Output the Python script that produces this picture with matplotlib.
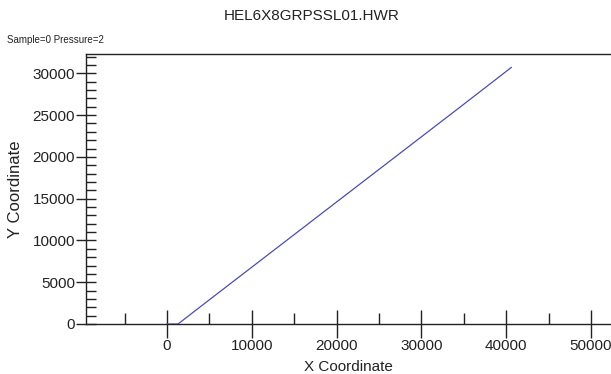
import matplotlib
matplotlib.use("Agg")
import matplotlib.pyplot as plt
from matplotlib.ticker import MultipleLocator

plt.rcParams['font.family'] = ['Liberation Sans', 'DejaVu Sans']

# Trace of the coordinate path
x_coord = [0, 1300, 5000, 10000, 15000, 20000, 25000, 30000, 35000, 40600]
y_coord = [0, 0, 2900, 6800, 10700, 14600, 18500, 22400, 26300, 30700]

title = "HEL6X8GRPSSL01.HWR"
subtitle = "Sample=0 Pressure=2"
x_label = "X Coordinate"
y_label = "Y Coordinate"
x_ticks = [0, 10000, 20000, 30000, 40000, 50000]
y_ticks = [0, 5000, 10000, 15000, 20000, 25000, 30000]

fig = plt.figure(figsize=(6.11, 3.74), dpi=100)
ax = fig.add_axes([0.1408, 0.1337, 0.8592, 0.7219])

ax.plot(x_coord, y_coord, color='#4d4da6', linewidth=0.9, zorder=3)

ax.set_xlim(-9550, 52360)
ax.set_ylim(0, 32310)

ax.spines['right'].set_visible(False)
for s in ('left', 'top', 'bottom'):
    ax.spines[s].set_linewidth(1.0)
    ax.spines[s].set_color('#222222')

ax.set_xticks(x_ticks)
ax.set_yticks(y_ticks)
ax.xaxis.set_minor_locator(MultipleLocator(5000))
ax.yaxis.set_minor_locator(MultipleLocator(1000))
ax.tick_params(which='major', direction='inout', length=20, width=1.0,
               labelsize=11, colors='#222222', pad=1)
ax.tick_params(which='minor', direction='in', length=8, width=1.0,
               colors='#222222')
ax.tick_params(axis='y', which='major', length=14, pad=1)
ax.tick_params(axis='y', which='minor', length=7)
ax.tick_params(top=False, right=False, which='both')

ax.set_xlabel(x_label, fontsize=11, color='#222222', labelpad=4.5)
ax.set_ylabel(y_label, fontsize=12, color='#222222', labelpad=6.5)

fig.text(0.51, 0.958, title, ha='center', va='center', fontsize=11,
         color='#222222')
fig.text(0.012, 0.893, subtitle, ha='left', va='center', fontsize=7,
         color='#222222')

fig.savefig("out.png", dpi=100)
